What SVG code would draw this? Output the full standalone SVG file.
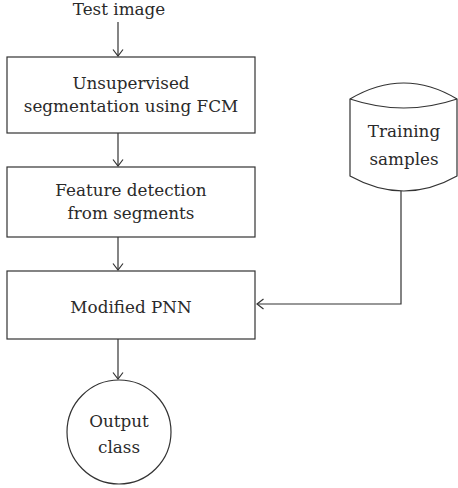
<svg xmlns="http://www.w3.org/2000/svg" width="458" height="488" viewBox="0 0 458 488">
<style>
.s{fill:#fff;stroke:#333;stroke-width:1.2}
.c{fill:none;stroke:#333;stroke-width:1.2}
text{font-family:"DejaVu Serif","Liberation Serif",serif;font-size:16.8px;fill:#2a2a2a;text-anchor:middle}
</style>
<defs>
<marker id="a" markerUnits="userSpaceOnUse" markerWidth="12" markerHeight="12" viewBox="-7 -6 8 12" refX="0" refY="0" orient="auto">
<path d="M-6.5,-5 L0,0 L-6.5,5" fill="none" stroke="#333" stroke-width="1.2"/>
</marker>
</defs>
<g id="connectors">
<path class="c" d="M118,22 V56" marker-end="url(#a)"/>
<path class="c" d="M118,133 V166" marker-end="url(#a)"/>
<path class="c" d="M118,237 V270" marker-end="url(#a)"/>
<path class="c" d="M118,339 V379" marker-end="url(#a)"/>
<path class="c" d="M401,191 V304 H257" marker-end="url(#a)"/>
</g>
<g id="test-image"><text x="119" y="15">Test image</text></g>
<g id="segmentation">
<rect class="s" x="7" y="57" width="248" height="76"/>
<text x="131" y="89">Unsupervised</text>
<text x="131" y="112">segmentation using FCM</text>
</g>
<g id="feature">
<rect class="s" x="7" y="167" width="248" height="70"/>
<text x="131" y="196">Feature detection</text>
<text x="131" y="219">from segments</text>
</g>
<g id="pnn">
<rect class="s" x="7" y="271" width="248" height="68"/>
<text x="131" y="313">Modified PNN</text>
</g>
<g id="output">
<circle class="s" cx="119" cy="432" r="52"/>
<text x="119" y="427">Output</text>
<text x="119" y="453">class</text>
</g>
<g id="training">
<path class="s" d="M350,99 Q404,67 457,99 V176 Q404,206 350,176 Z"/>
<path class="c" d="M350,99 Q404,117 457,99"/>
<text x="404" y="137">Training</text>
<text x="404" y="165">samples</text>
</g>
</svg>
